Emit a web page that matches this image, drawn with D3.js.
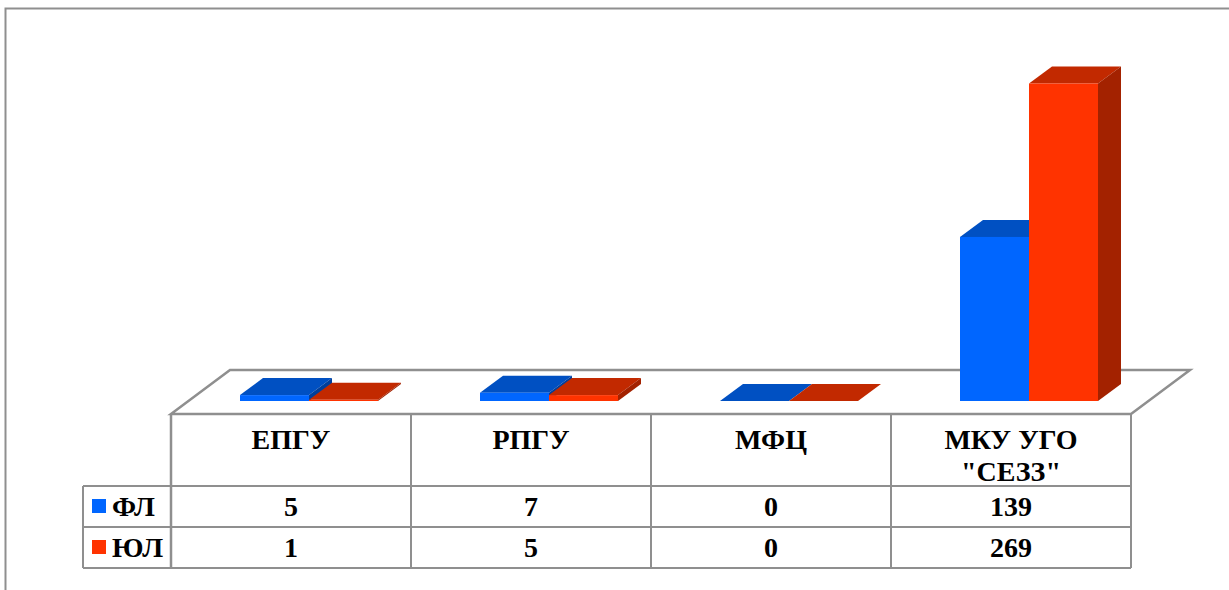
<!DOCTYPE html>
<html>

<head>
  <meta charset="utf-8">
  <script src="https://cdn.jsdelivr.net/npm/d3@7/dist/d3.min.js"></script>
  <style>
    body { margin: 0; background: #fff; }
    svg { display: block; }
    text { font-family: "Liberation Serif", serif; font-weight: bold; fill: #000; font-size: 28px; }
  </style>
</head>

<body>
  <script>
    var categories = [["ЕПГУ"], ["РПГУ"], ["МФЦ"], ["МКУ УГО", "\"СЕЗЗ\""]];
    var seriesNames = ["ФЛ", "ЮЛ"];
    var valuesFL = [5, 7, 0, 139];
    var valuesUL = [1, 5, 0, 269];

    var seriesValues = [valuesFL, valuesUL];
    var front = ["#0066ff", "#ff3300"];
    var top3d = ["#0050c2", "#c22900"];
    var side = ["#003f9c", "#a32200"];
    var lineColor = "#8f8f8f";

    var svg = d3.select("body").append("svg").attr("width", 1229).attr("height", 590);

    // outer frame, cut off by the picture on the right and at the bottom
    svg.append("path")
      .attr("d", "M5.5,590V8.5H1229")
      .attr("fill", "none").attr("stroke", lineColor).attr("stroke-width", 2);

    var floorY = 414, floorBackY = 370, floorDx = 59;
    var x = d3.scaleBand().domain(d3.range(categories.length)).range([171, 1131]);
    var xInner = d3.scaleBand().domain(d3.range(seriesNames.length)).range([-69, 69]);
    var y = d3.scaleLinear().domain([0, 269]).range([401, 83.5]);
    var rowY = d3.scaleBand().domain(d3.range(seriesNames.length)).range([486, 568]);

    // bar depth and how far bars sit behind the front edge of the floor
    var depthX = 23, depthY = 17, shiftX = 18;

    svg.append("path")
      .attr("d", "M" + x.range()[0] + "," + floorY + "L" + (x.range()[0] + floorDx) + "," + floorBackY +
        "H" + (x.range()[1] + floorDx) + "L" + x.range()[1] + "," + floorY + "Z")
      .attr("fill", "none").attr("stroke", lineColor).attr("stroke-width", 2.5);

    categories.forEach(function (cat, c) {
      seriesValues.forEach(function (vals, s) {
        var g = svg.append("g");
        var x0 = x(c) + x.bandwidth() / 2 + shiftX + xInner(s);
        var x1 = x0 + xInner.bandwidth();
        var yTop = y(vals[c]);
        var yBase = y(0);
        g.append("polygon")
          .attr("points", [[x0, yTop], [x0 + depthX, yTop - depthY], [x1 + depthX, yTop - depthY], [x1, yTop]].join(" "))
          .attr("fill", top3d[s]);
        g.append("polygon")
          .attr("points", [[x1, yTop], [x1 + depthX, yTop - depthY], [x1 + depthX, yBase - depthY], [x1, yBase]].join(" "))
          .attr("fill", side[s]);
        g.append("rect")
          .attr("x", x0).attr("y", yTop)
          .attr("width", xInner.bandwidth()).attr("height", yBase - yTop)
          .attr("fill", front[s]);
      });
    });

    // data table
    var table = svg.append("g").attr("fill", "none").attr("stroke", lineColor).attr("stroke-width", 2);
    d3.range(categories.length + 1).forEach(function (i) {
      var xp = x.range()[0] + i * x.bandwidth();
      table.append("line").attr("x1", xp).attr("x2", xp).attr("y1", floorY).attr("y2", 568)
        .attr("stroke-width", i == 0 ? 2.5 : 2);
    });
    table.append("line").attr("x1", 83).attr("x2", 83).attr("y1", 486).attr("y2", 568);
    [486, 527, 568].forEach(function (yp) {
      table.append("line").attr("x1", 83).attr("x2", 1131).attr("y1", yp).attr("y2", yp);
    });

    categories.forEach(function (cat, c) {
      cat.forEach(function (line, i) {
        svg.append("text")
          .attr("x", x(c) + x.bandwidth() / 2).attr("y", 449 + i * 32)
          .attr("text-anchor", "middle").text(line);
      });
    });

    seriesNames.forEach(function (name, s) {
      var base = rowY(s) + 30;
      svg.append("rect").attr("x", 92).attr("y", rowY(s) + 13).attr("width", 14).attr("height", 14).attr("fill", front[s]);
      svg.append("text").attr("x", 112).attr("y", base).text(name);
      seriesValues[s].forEach(function (v, c) {
        svg.append("text")
          .attr("x", x(c) + x.bandwidth() / 2).attr("y", base)
          .attr("text-anchor", "middle").text(v);
      });
    });
  </script>
</body>

</html>
